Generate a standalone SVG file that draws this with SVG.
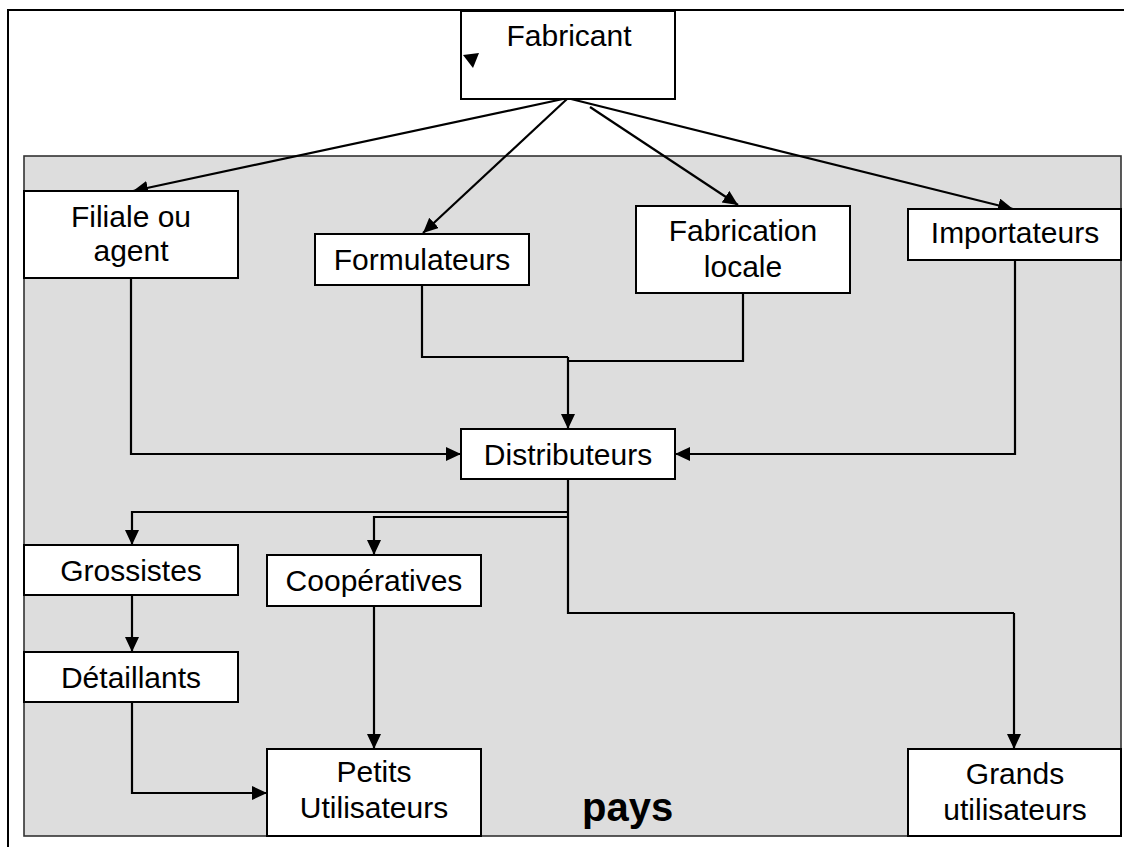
<svg xmlns="http://www.w3.org/2000/svg" width="1124" height="847" viewBox="0 0 1124 847">
<style>
.box{fill:#ffffff;stroke:#000000;stroke-width:2}
.t{font-family:"Liberation Sans",Arial,sans-serif;font-size:30px;fill:#000000;text-anchor:middle}
.c{fill:none;stroke:#000000;stroke-width:2.2}
.a{marker-end:url(#ah)}
</style>
<defs>
<marker id="ah" markerUnits="userSpaceOnUse" markerWidth="16" markerHeight="16" refX="15" refY="7" orient="auto">
<path d="M0,0 L15,7 L0,14 z" fill="#000000"/>
</marker>
</defs>
<rect x="0" y="0" width="1124" height="847" fill="#ffffff"/>
<rect id="frame" x="8" y="10" width="1130" height="860" fill="none" stroke="#000000" stroke-width="2"/>
<g id="pays-region">
<rect x="24" y="156" width="1097" height="680" fill="#dddddd" stroke="#333333" stroke-width="1.6"/>
<text x="582" y="821" font-family="'Liberation Sans',Arial,sans-serif" font-size="40" font-weight="bold">pays</text>
</g>
<g id="connectors">
<line class="c a" x1="563" y1="99" x2="133" y2="191"/>
<line class="c a" x1="567" y1="99" x2="423" y2="233"/>
<line class="c a" x1="590" y1="107" x2="738" y2="205"/>
<line class="c a" x1="571" y1="99" x2="1013" y2="209"/>
<polyline class="c a" points="131,278 131,454 461,454"/>
<polyline class="c" points="422,285 422,357 568,357"/>
<polyline class="c" points="743,293 743,361 568,361"/>
<line class="c a" x1="568" y1="357" x2="568" y2="429"/>
<polyline class="c a" points="1015,260 1015,454 675,454"/>
<polyline class="c" points="568,479 568,613 1014,613"/>
<line class="c a" x1="1014" y1="613" x2="1014" y2="749"/>
<polyline class="c a" points="568,512 132,512 132,545"/>
<polyline class="c a" points="568,517 374,517 374,555"/>
<line class="c a" x1="132" y1="595" x2="132" y2="652"/>
<polyline class="c a" points="132,702 132,793 267,793"/>
<line class="c a" x1="374" y1="606" x2="374" y2="749"/>
</g>
<g id="fabricant">
<rect class="box" x="461" y="11" width="214" height="88"/>
<text class="t" x="569" y="46">Fabricant</text>
<polygon points="463,55 479,53 473,68" fill="#000000"/>
</g>
<g id="filiale">
<rect class="box" x="24" y="191" width="214" height="87"/>
<text class="t" x="131" y="227">Filiale ou</text>
<text class="t" x="131" y="261">agent</text>
</g>
<g id="formulateurs">
<rect class="box" x="315" y="234" width="214" height="51"/>
<text class="t" x="422" y="270">Formulateurs</text>
</g>
<g id="fabrication">
<rect class="box" x="636" y="206" width="214" height="87"/>
<text class="t" x="743" y="241">Fabrication</text>
<text class="t" x="743" y="277">locale</text>
</g>
<g id="importateurs">
<rect class="box" x="908" y="209" width="213" height="51"/>
<text class="t" x="1015" y="243">Importateurs</text>
</g>
<g id="distributeurs">
<rect class="box" x="461" y="429" width="214" height="50"/>
<text class="t" x="568" y="465">Distributeurs</text>
</g>
<g id="grossistes">
<rect class="box" x="24" y="545" width="214" height="50"/>
<text class="t" x="131" y="581">Grossistes</text>
</g>
<g id="detaillants">
<rect class="box" x="24" y="652" width="214" height="50"/>
<text class="t" x="131" y="688">Détaillants</text>
</g>
<g id="cooperatives">
<rect class="box" x="267" y="555" width="214" height="51"/>
<text class="t" x="374" y="591">Coopératives</text>
</g>
<g id="petits">
<rect class="box" x="267" y="749" width="214" height="87"/>
<text class="t" x="374" y="782">Petits</text>
<text class="t" x="374" y="818">Utilisateurs</text>
</g>
<g id="grands">
<rect class="box" x="908" y="749" width="213" height="87"/>
<text class="t" x="1015" y="784">Grands</text>
<text class="t" x="1015" y="820">utilisateurs</text>
</g>
</svg>
